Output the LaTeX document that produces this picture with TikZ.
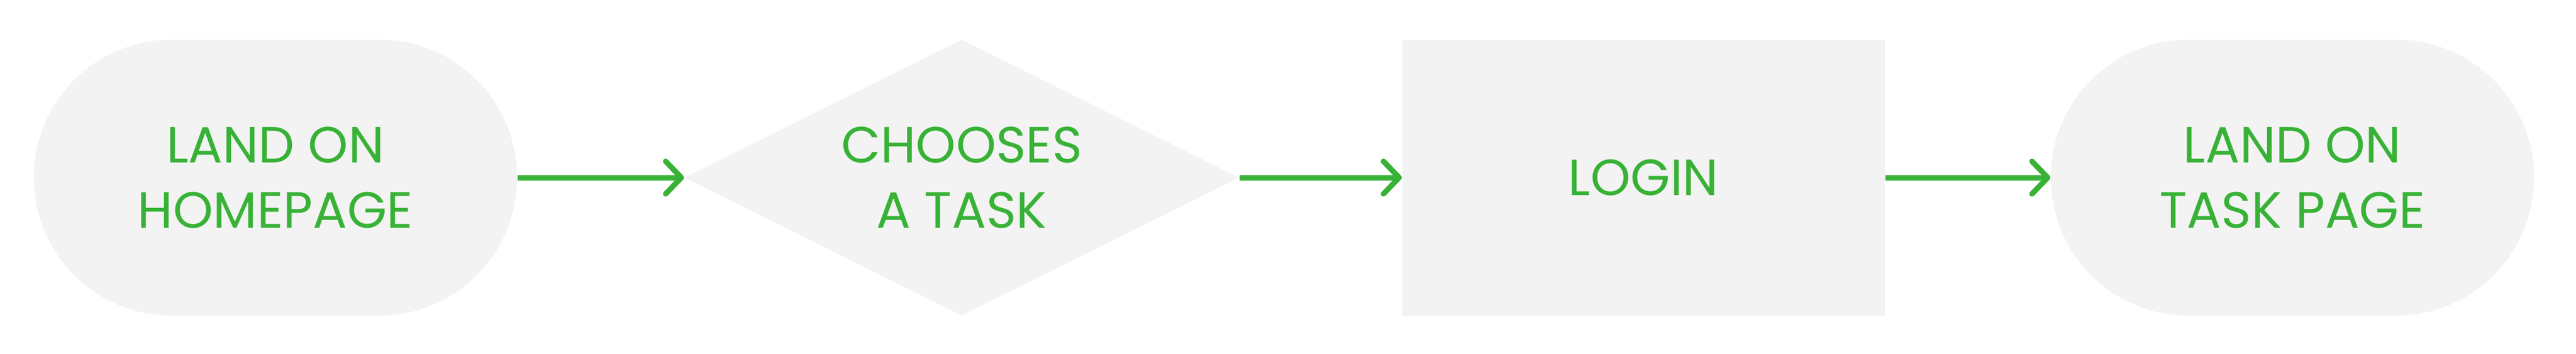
\documentclass[tikz,border=0pt]{standalone}
\usepackage{fontspec}
\setmainfont{Poppins}
\usetikzlibrary{shapes.geometric,arrows.meta}
\definecolor{flowgreen}{HTML}{38B236}
\definecolor{flowgray}{HTML}{F3F3F3}

\begin{document}
\begin{tikzpicture}[
  box/.style={fill=flowgray, text=flowgreen, inner sep=0pt, minimum height=4.57cm,
    align=center, font=\fontsize{24}{30.7}\selectfont},
  stadium/.style={box, rectangle, rounded corners=2.28cm, minimum width=7.99cm},
  decision/.style={box, diamond, aspect=2, minimum width=9.17cm},
  stepbox/.style={box, rectangle, minimum width=7.98cm},
  flow/.style={draw=flowgreen, line width=0.09cm, -{Straight Barb[length=0.26cm,width=0.54cm,round]}}]
\useasboundingbox (0,0) rectangle (42.6,5.85);
\node[stadium] (home) at (4.555,2.91) {LAND ON\\HOMEPAGE};
\node[decision] (choose) at (15.905,2.91) {CHOOSES\\A TASK};
\node[stepbox] (login) at (27.18,2.91) {LOGIN};
\node[stadium] (taskpage) at (37.91,2.91) {LAND ON\\TASK PAGE};
\draw[flow] (home.east) -- (choose.west);
\draw[flow] (choose.east) -- (login.west);
\draw[flow] (login.east) -- (taskpage.west);
\end{tikzpicture}
\end{document}
